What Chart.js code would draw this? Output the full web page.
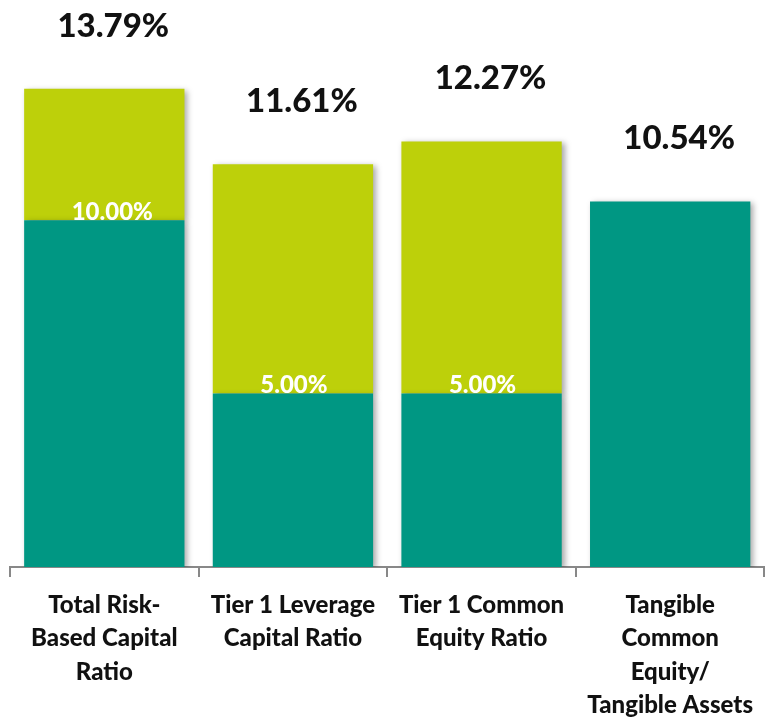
<!DOCTYPE html>
<html>
<head>
<meta charset="utf-8">
<script src="https://cdn.jsdelivr.net/npm/chart.js@4.4.1/dist/chart.umd.min.js"></script>
<style>
  html, body { margin: 0; padding: 0; background: #fff; }
  #wrap { width: 765px; height: 721px; position: relative; }
</style>
</head>
<body>
<div id="wrap"><canvas id="capitalChart"></canvas></div>
<script>
// Chart data
const categories = [
    ["Total Risk-", "Based Capital", "Ratio"],
    ["Tier 1 Leverage", "Capital Ratio"],
    ["Tier 1 Common", "Equity Ratio"],
    ["Tangible", "Common", "Equity/", "Tangible Assets"]
];
const minimumValues = [10.00, 5.00, 5.00, 10.54];
const excessValues = [3.79, 6.61, 7.27, 0];
const totalLabels = ["13.79%", "11.61%", "12.27%", "10.54%"];
const minimumLabels = ["10.00%", "5.00%", "5.00%", ""];

const TEAL = "#009783";
const LIME = "#BDD00A";

// draws a soft shadow behind the bars
const barShadow = {
    id: "barShadow",
    beforeDatasetDraw(chart) {
        const ctx = chart.ctx;
        ctx.save();
        ctx.shadowColor = "rgba(0,0,0,0.35)";
        ctx.shadowBlur = 6;
        ctx.shadowOffsetX = 3;
        ctx.shadowOffsetY = 2;
    },
    afterDatasetDraw(chart) {
        chart.ctx.restore();
    }
};

// value labels: totals above bars, minimums just above the teal part
const valueLabels = {
    id: "valueLabels",
    afterDatasetsDraw(chart) {
        const ctx = chart.ctx;
        const y = chart.scales.y;
        const meta = chart.getDatasetMeta(0);
        ctx.save();
        ctx.textAlign = "center";
        meta.data.forEach((bar, i) => {
            const total = minimumValues[i] + excessValues[i];
            ctx.fillStyle = "#111";
            ctx.font = "900 33px Lato";
            ctx.textBaseline = "alphabetic";
            ctx.fillText(totalLabels[i], bar.x + 9, y.getPixelForValue(total) - 52);
            if (minimumLabels[i]) {
                ctx.fillStyle = "#fff";
                ctx.font = "900 24px Lato";
                ctx.textBaseline = "bottom";
                ctx.fillText(minimumLabels[i], bar.x + (i === 0 ? 8 : 1), y.getPixelForValue(minimumValues[i]) + 4);
            }
        });
        ctx.restore();
    }
};

const ctx = document.getElementById("capitalChart").getContext("2d");
new Chart(ctx, {
    type: "bar",
    data: {
        labels: categories,
        datasets: [
            { label: "Minimum", data: minimumValues, backgroundColor: TEAL },
            { label: "Excess", data: excessValues, backgroundColor: LIME }
        ]
    },
    options: {
        responsive: true,
        maintainAspectRatio: false,
        animation: false,
        layout: { padding: { top: 12, left: 10, right: 0, bottom: 0 } },
        datasets: { bar: { categoryPercentage: 1, barPercentage: 0.85 } },
        plugins: { legend: { display: false }, tooltip: { enabled: false } },
        scales: {
            x: {
                stacked: true,
                grid: { offset: true, drawOnChartArea: false, color: "#888", tickLength: 10, lineWidth: 2 },
                border: { color: "#888", width: 2 },
                ticks: {
                    color: "#111",
                    font: { family: "Lato", weight: "900", size: 24, lineHeight: 1.38 },
                    padding: 12,
                    maxRotation: 0,
                    autoSkip: false
                },
                afterFit(scale) { scale.height = 154; }
            },
            y: {
                stacked: true,
                display: false,
                min: 0,
                max: 16
            }
        }
    },
    plugins: [barShadow, valueLabels]
});
</script>
</body>
</html>
